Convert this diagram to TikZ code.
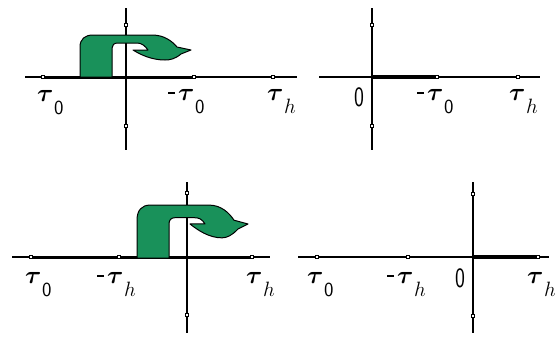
\documentclass[tikz,border=0pt]{standalone}
\usepackage{graphicx}
\definecolor{arrowgreen}{RGB}{25,145,90}
\newcommand\taulab[1]{{\fontsize{25}{25}\selectfont\boldmath$\tau$}\kern0.5pt\raisebox{-13pt}{\fontsize{20}{20}\selectfont\sffamily#1}}
\newcommand\mtaulab[1]{\rule[6pt]{7pt}{1.7pt}\kern3pt\taulab{#1}}
\newcommand\zerolab{\scalebox{0.75}[1]{\fontsize{28}{28}\selectfont\sffamily 0}}
\begin{document}
\begin{tikzpicture}[x=1pt,y=-1pt,
  axis/.style={line width=1.1pt,black},
  thickseg/.style={line width=3pt,black},
  tickbox/.style={draw,fill=white,line width=0.8pt,minimum size=3.6pt,inner sep=0pt,rectangle},
  lab/.style={anchor=base west,inner sep=0pt},
  turnarrow/.style={fill=arrowgreen,draw=black,line width=1pt,line join=round}]
\useasboundingbox (0,0) rectangle (555,338);
% ---------------- Panel 1 ----------------
\coordinate (p1l) at (25,77); \coordinate (p1r) at (297,77);
\coordinate (p1t) at (126,8); \coordinate (p1b) at (126,150);
\draw[axis] (p1l) -- (p1r);
\draw[axis] (p1t) -- (p1b);
\coordinate (p1a) at (43,77); \coordinate (p1c) at (194,77); \coordinate (p1d) at (273,77);
\draw[thickseg] (p1a) -- (p1c);
\begin{scope}[shift={(80,77)}]
\draw[turnarrow] (0,0) -- (0,-30) .. controls (0,-38) and (5,-42) .. (13,-42) -- (72,-42)
  .. controls (84,-42) and (92,-36) .. (97,-30) -- (111,-27) -- (101,-23)
  .. controls (95,-18) and (90,-17) .. (85,-17) .. controls (72,-17) and (61,-22) .. (53,-27)
  -- (68,-27) .. controls (65,-31) and (62,-34) .. (57,-34) -- (38,-34)
  .. controls (34,-34) and (32,-32) .. (32,-29) -- (32,0) -- cycle;
\end{scope}
\node[tickbox] (p1k1) at (p1a) {}; \node[tickbox] (p1k2) at (p1c) {}; \node[tickbox] (p1k3) at (p1d) {};
\node[tickbox] (p1k4) at (126,25) {}; \node[tickbox] (p1k5) at (126,126) {};
\node[lab] (p1n1) at (37,101) {\taulab{0}};
\node[lab] (p1n2) at (168,100) {\mtaulab{0}};
\node[lab] (p1n3) at (267,100) {\taulab{$h$}};
% ---------------- Panel 2 ----------------
\coordinate (p2l) at (319,77); \coordinate (p2r) at (540,77);
\coordinate (p2t) at (372,8); \coordinate (p2b) at (372,150);
\draw[axis] (p2l) -- (p2r);
\draw[axis] (p2t) -- (p2b);
\coordinate (p2o) at (372,77); \coordinate (p2a) at (437,77); \coordinate (p2c) at (518,77);
\draw[line width=4pt] (p2o) -- (p2a);
\draw[line width=2pt] (p2a) -- (p2c);
\node[tickbox,minimum size=2.4pt] (p2k1) at (p2a) {}; \node[tickbox] (p2k2) at (p2c) {};
\node[tickbox] (p2k3) at (372,25) {}; \node[tickbox] (p2k4) at (372,126) {};
\node[lab] (p2n0) at (354,106) {\zerolab};
\node[lab] (p2n1) at (417,100) {\mtaulab{0}};
\node[lab] (p2n2) at (509,100) {\taulab{$h$}};
% ---------------- Panel 3 ----------------
\coordinate (p3l) at (12,257); \coordinate (p3r) at (270,257);
\coordinate (p3t) at (187,182); \coordinate (p3b) at (187,333);
\draw[axis] (p3l) -- (p3r);
\draw[axis] (p3t) -- (p3b);
\coordinate (p3a) at (31,257); \coordinate (p3c) at (119,257); \coordinate (p3d) at (252,257);
\draw[thickseg] (p3a) -- (p3d);
\begin{scope}[shift={(137,258)},yscale=1.26]
\draw[turnarrow] (0,0) -- (0,-30) .. controls (0,-38) and (5,-42) .. (13,-42) -- (72,-42)
  .. controls (84,-42) and (92,-36) .. (97,-30) -- (111,-27) -- (101,-23)
  .. controls (95,-18) and (90,-16) .. (85,-16) .. controls (72,-16) and (61,-22) .. (53,-27)
  -- (68,-27) .. controls (65,-31) and (62,-32) .. (57,-32) -- (38,-32)
  .. controls (34,-32) and (32,-30) .. (32,-27) -- (32,0) -- cycle;
\end{scope}
\node[tickbox] (p3k1) at (p3a) {}; \node[tickbox] (p3k2) at (p3c) {}; \node[tickbox] (p3k3) at (p3d) {};
\node[tickbox] (p3k4) at (187,193) {}; \node[tickbox] (p3k5) at (187,315) {};
\node[lab] (p3n1) at (25,283) {\taulab{0}};
\node[lab] (p3n2) at (97,283) {\mtaulab{$h$}};
\node[lab] (p3n3) at (246,283) {\taulab{$h$}};
% ---------------- Panel 4 ----------------
\coordinate (p4l) at (298,257); \coordinate (p4r) at (549,257);
\coordinate (p4t) at (473,182); \coordinate (p4b) at (473,333);
\draw[axis] (p4l) -- (p4r);
\draw[axis] (p4t) -- (p4b);
\coordinate (p4a) at (317,257); \coordinate (p4c) at (408,257);
\coordinate (p4o) at (473,257); \coordinate (p4d) at (538,257);
\draw[line width=2.7pt] (p4a) -- (p4c);
\draw[line width=4pt] (p4o) -- (p4d);
\node[tickbox] (p4k1) at (p4a) {}; \node[tickbox] (p4k2) at (p4c) {}; \node[tickbox] (p4k3) at (p4d) {};
\node[tickbox] (p4k4) at (473,194) {}; \node[tickbox] (p4k5) at (473,316) {};
\node[lab] (p4n1) at (307,283) {\taulab{0}};
\node[lab] (p4n2) at (387,283) {\mtaulab{$h$}};
\node[lab] (p4n0) at (455,287) {\zerolab};
\node[lab] (p4n3) at (527,283) {\taulab{$h$}};
\end{tikzpicture}
\end{document}
